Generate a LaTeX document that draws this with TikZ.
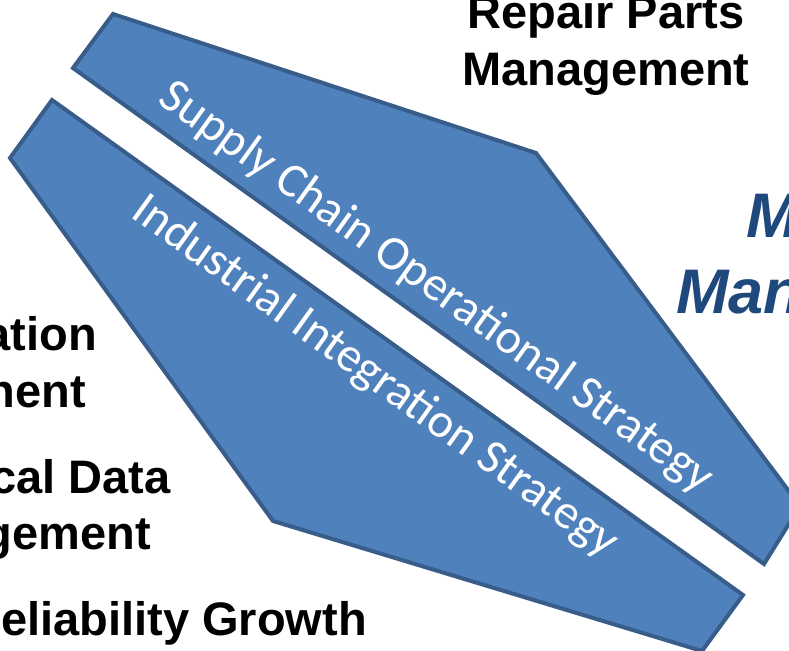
\documentclass[tikz,border=0pt]{standalone}
\usepackage{fontspec}
\setmainfont{Liberation Sans}
\newfontfamily\panelfont{Carlito}
\usepackage{xcolor}
\usepackage{tikz}

\definecolor{panelfill}{HTML}{4F81BD}
\definecolor{paneledge}{HTML}{385D8A}
\definecolor{headblue}{HTML}{1F497D}

\tikzset{
  panel/.style={fill=panelfill, draw=paneledge, line width=4pt},
  paneltext/.style={text=white, font=\panelfont\fontsize{48.5}{58}\selectfont, rotate=-35.7, inner sep=0pt},
  blacklabel/.style={font=\bfseries\fontsize{47}{56}\selectfont, inner sep=0pt, anchor=base},
  blacklabelr/.style={font=\bfseries\fontsize{47}{56}\selectfont, inner sep=0pt, anchor=base east},
  bluelabel/.style={text=headblue, font=\bfseries\itshape\fontsize{63}{76}\selectfont, inner sep=0pt, anchor=base west},
}

\begin{document}
\begin{tikzpicture}[x=1pt,y=-1pt]
\useasboundingbox (0,0) rectangle (789,650);
\filldraw[panel] (113,14) -- (536,153) -- (800,506) -- (764,564) -- (73,68) -- cycle;
\filldraw[panel] (52,100) -- (743,595) -- (702,651) -- (273,521) -- (10,158) -- cycle;
\node[paneltext] (supply) at (436,288) {Supply Chain Operational Strategy};
\node[paneltext] (industrial) at (375,377) {Industrial Integration Strategy};
%
\node[blacklabel] (repair) at (606,29) {Repair Parts};
\node[blacklabel] (repairmgt) at (606,86) {Management};
\node[bluelabel] (matl) at (746,237) {M};
\node[bluelabel] (matlmgt) at (676,313) {Man};
%
\node[blacklabelr] (config) at (97,350) {ation};
\node[blacklabelr] (configmgt) at (86,407) {nent};
\node[blacklabelr] (techdata) at (171,493) {cal Data};
\node[blacklabelr] (techmgt) at (151,549) {gement};
\node[blacklabelr] (relgrowth) at (367,635) {eliability Growth};
\end{tikzpicture}
\end{document}
